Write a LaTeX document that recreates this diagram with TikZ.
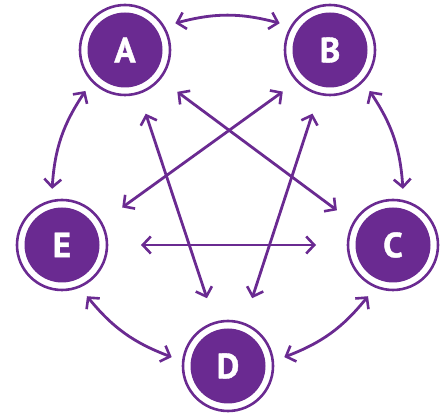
\documentclass[tikz,border=0pt]{standalone}
\usepackage{fontspec}
\setsansfont{PT Sans}[BoldFeatures={FakeBold=1.2}]
\usetikzlibrary{arrows.meta}
\definecolor{pur}{RGB}{106,42,145}
\begin{document}
\begin{tikzpicture}[x=1pt,y=1pt,
  disc/.style={circle,fill=pur,minimum size=75pt,inner sep=0pt,outer sep=19.5pt,
    text=white,font=\sffamily\bfseries\fontsize{35}{35}\selectfont},
  ring/.style={draw=pur,line width=2.6pt},
  link/.style={draw=pur,line width=2.8pt,line cap=round,
    {Straight Barb[length=8pt,width=17pt,line width=2.6pt]}-{Straight Barb[length=8pt,width=17pt,line width=2.6pt]}},
  curv/.style={link,bend left=15}]
\useasboundingbox (0,0) rectangle (441,414);
\node[disc] (A) at (125,364) {A};
\node[disc] (B) at (330,364) {B};
\node[disc] (C) at (393,169) {C};
\node[disc] (D) at (228,48) {D};
\node[disc] (E) at (62,169) {E};
\foreach \n in {A,B,C,D,E} \draw[ring] (\n.center) circle[radius=45];
% curved outer links
\draw[curv] (A.28) to (B.152);
\draw[curv] (B.-46) to (C.80);
\draw[curv] (C.244) to (D.9);
\draw[curv] (D.171) to (E.-64);
\draw[curv] (E.100) to (A.226);
% straight links
\draw[link,shorten <=10pt,shorten >=9pt] (A.-39) -- (C.149);
\draw[link,shorten <=6pt,shorten >=14pt] (B.222) -- (E.31);
\draw[link,shorten <=10pt,shorten >=14pt] (A.-72) -- (D.107);
\draw[link,shorten <=9pt,shorten >=15pt] (B.255) -- (D.70);
\draw[link,shorten <=22pt,shorten >=20pt] (E.0) -- (C.180);
\end{tikzpicture}
\end{document}
